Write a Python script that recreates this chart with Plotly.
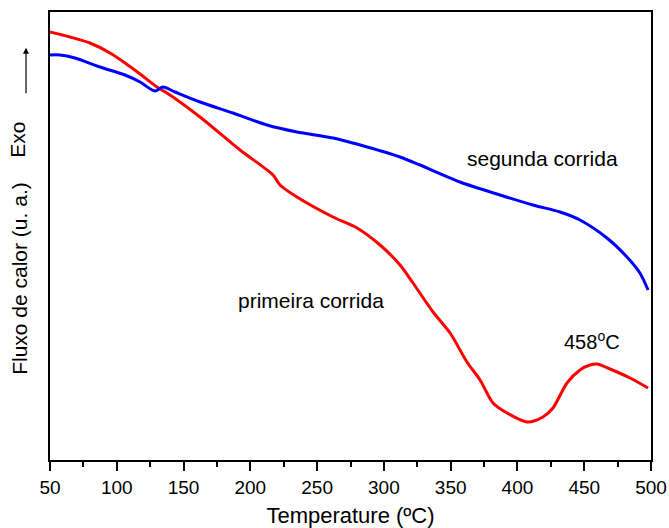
import plotly.graph_objects as go

# primeira corrida (red)
t_red = [50, 65.0, 79.9, 94.9, 106.2, 117.4, 130.1, 137.6, 162.3, 192.3, 217.0, 222.2, 234.9,
         261.9, 279.9, 297.1, 312.1, 321.8, 336.8, 349.6, 362.2, 372.0, 381.7, 392.2, 407.2,
         419.1, 426.6, 437.1, 446.8, 454.3, 459.6, 469.3, 484.3, 497.8]
y_red = [428, 423, 417, 407, 397, 386, 373, 367, 343, 310, 285, 275, 263,
         243, 232, 215, 195, 177, 148, 127, 98, 80, 57, 47, 38,
         43, 52, 77, 90, 95, 96, 91, 82, 72]

# segunda corrida (blue)
t_blue = [50, 57.5, 68.7, 87.4, 106.2, 117.4, 128.6, 134.6, 143.6, 162.3, 187.0, 212.5, 234.9,
          261.9, 287.4, 312.1, 327.0, 357.0, 386.9, 411.6, 431.9, 446.8, 467.0, 482.0, 491.7, 497.8]
y_blue = [405, 405, 402, 393, 385, 378, 369, 373, 368, 358, 347, 335, 328,
          322, 313, 303, 295, 278, 265, 255, 248, 240, 222, 203, 187, 170]

x_ticks = [50, 100, 150, 200, 250, 300, 350, 400, 450, 500]

FONT = "Liberation Sans, Arial, sans-serif"

fig = go.Figure()
fig.add_trace(go.Scatter(x=t_red, y=y_red, mode="lines",
                         line=dict(color="#ff0000", width=3, shape="spline", smoothing=0.8),
                         showlegend=False))
fig.add_trace(go.Scatter(x=t_blue, y=y_blue, mode="lines",
                         line=dict(color="#0000ff", width=3, shape="spline", smoothing=0.8),
                         showlegend=False))

fig.update_xaxes(range=[50, 500], tickvals=x_ticks, ticks="outside", ticklen=9, tickwidth=1.5,
                 tickcolor="black", showline=True, linecolor="black", linewidth=1.5, mirror=True,
                 showgrid=False, zeroline=False, automargin=False,
                 minor=dict(dtick=25, tick0=50, ticks="outside", ticklen=5, tickwidth=1.5,
                            tickcolor="black", showgrid=False),
                 tickfont=dict(family=FONT, size=19, color="black"),
                 title=dict(text="Temperature (ºC)", font=dict(family=FONT, size=22, color="black"),
                            standoff=12))
fig.update_yaxes(range=[0, 448], showticklabels=False, ticks="", showline=True, linecolor="black",
                 linewidth=1.5, mirror=True, showgrid=False, zeroline=False, automargin=False)

ann_font = dict(family=FONT, size=21, color="black")
fig.add_annotation(x=418.5, y=302, text="segunda corrida", showarrow=False, font=ann_font)
fig.add_annotation(x=245.4, y=160, text="primeira corrida", showarrow=False, font=ann_font)
fig.add_annotation(x=455.8, y=120, text="458<sup>o</sup>C", showarrow=False,
                   font=dict(family=FONT, size=20, color="black"))

fig.add_annotation(xref="paper", yref="paper", x=-0.052, y=0.406, text="Fluxo de calor (u. a.)",
                   xanchor="center", yanchor="middle",
                   textangle=-90, showarrow=False, font=dict(family=FONT, size=21, color="black"))
fig.add_annotation(xref="paper", yref="paper", x=-0.054, y=0.714, text="Exo",
                   xanchor="center", yanchor="middle",
                   textangle=-90, showarrow=False, font=dict(family=FONT, size=21, color="black"))
fig.add_annotation(xref="paper", yref="paper", x=-0.0399, y=0.92, text="", showarrow=True,
                   ax=0, ay=47, arrowhead=2, arrowsize=1, arrowwidth=1.2, arrowcolor="black")

fig.update_layout(width=669, height=528, margin=dict(l=50, r=18, t=12, b=68, autoexpand=False),
                  plot_bgcolor="white", paper_bgcolor="white")

fig.write_html("out.html")
